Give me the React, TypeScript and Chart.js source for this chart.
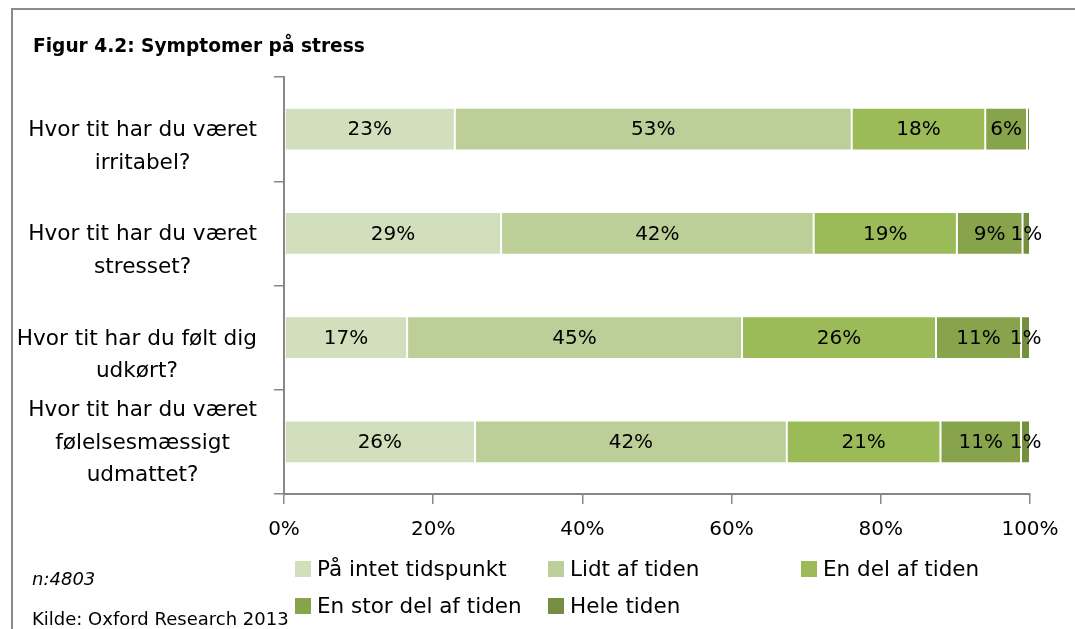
import React, { useEffect, useRef } from "react";
import { Chart, registerables } from "chart.js";

Chart.register(...registerables);

const FONT = "'DejaVu Sans', Verdana, sans-serif";

const titleText = "Figur 4.2: Symptomer på stress";
const noteN = "n:4803";
const noteSource = "Kilde: Oxford Research 2013";

const categories: string[][] = [
  ["Hvor tit har du været", "irritabel?"],
  ["Hvor tit har du været", "stresset?"],
  ["Hvor tit har du følt dig", "udkørt?"],
  ["Hvor tit har du været", "følelsesmæssigt", "udmattet?"],
];

const seriesNames = [
  "På intet tidspunkt",
  "Lidt af tiden",
  "En del af tiden",
  "En stor del af tiden",
  "Hele tiden",
];
const seriesColors = ["#d2dfbc", "#bccf99", "#9bbb59", "#87a34b", "#748f3d"];

const paaIntetTidspunkt = [22.9, 29.1, 16.5, 25.6];
const lidtAfTiden = [53.2, 41.9, 44.9, 41.8];
const enDelAfTiden = [17.9, 19.2, 26.0, 20.6];
const enStorDelAfTiden = [5.6, 8.8, 11.4, 10.8];
const heleTiden = [0.4, 1.0, 1.2, 1.2];
const seriesValues = [paaIntetTidspunkt, lidtAfTiden, enDelAfTiden, enStorDelAfTiden, heleTiden];

const xTickValues = [0, 20, 40, 60, 80, 100];

// legend layout: rows of series indices
const legendRows = [[0, 1, 2], [3, 4]];
const legendColX = [295, 548, 801];
const legendRowY = [561, 598];

const AXIS_COLOR = "#878787";

const dataLabelPlugin = {
  id: "dataLabels",
  afterDatasetsDraw(chart: any) {
    const ctx = chart.ctx;
    ctx.save();
    ctx.font = `20px ${FONT}`;
    ctx.fillStyle = "#000";
    ctx.textAlign = "center";
    ctx.textBaseline = "middle";
    chart.data.datasets.forEach((ds: any, di: number) => {
      const meta = chart.getDatasetMeta(di);
      meta.data.forEach((el: any, i: number) => {
        const v = ds.data[i] as number;
        if (v < 0.5) return;
        const p = el.getProps(["x", "y", "base"], true);
        ctx.fillText(Math.round(v) + "%", (p.x + p.base) / 2, p.y + 1);
      });
    });
    ctx.restore();
  },
};

const categoryLabelPlugin = {
  id: "categoryLabels",
  afterDraw(chart: any) {
    const ctx = chart.ctx;
    const yScale = chart.scales.y;
    const rightEdge = 257;
    const lineH = 32.5;
    ctx.save();
    ctx.font = `21.6px ${FONT}`;
    ctx.fillStyle = "#000";
    ctx.textAlign = "center";
    ctx.textBaseline = "middle";
    categories.forEach((lines, i) => {
      const cy = yScale.getPixelForValue(i);
      const widest = Math.max(...lines.map((l) => ctx.measureText(l).width));
      const cx = rightEdge - widest / 2;
      const lastY = cy + 34;
      lines.forEach((line, li) => {
        ctx.fillText(line, cx, lastY - (lines.length - 1 - li) * lineH);
      });
    });
    ctx.restore();
  },
};

export default function App() {
  const canvasRef = useRef<HTMLCanvasElement | null>(null);

  useEffect(() => {
    const canvas = canvasRef.current;
    if (!canvas) return;
    const chart = new Chart(canvas, {
      type: "bar",
      data: {
        labels: categories.map((c) => c.join(" ")),
        datasets: seriesNames.map((name, si) => ({
          label: name,
          data: seriesValues[si],
          backgroundColor: seriesColors[si],
          borderColor: "rgba(255,255,255,0.45)",
          borderWidth: 1,
          borderSkipped: false,
          categoryPercentage: 1,
          barPercentage: 0.41,
        })),
      },
      options: {
        animation: false,
        responsive: false,
        maintainAspectRatio: false,
        indexAxis: "y",
        layout: { padding: { top: 77, right: 45, left: 0, bottom: 0 } },
        plugins: {
          legend: { display: false },
          tooltip: { enabled: false },
          title: { display: false },
        },
        scales: {
          x: {
            stacked: true,
            min: 0,
            max: 100,
            afterBuildTicks: (scale: any) => {
              scale.ticks = xTickValues.map((v) => ({ value: v }));
            },
            ticks: {
              callback: (v: any) => v + "%",
              color: "#000",
              font: { family: FONT, size: 20 },
              padding: 14,
              maxRotation: 0,
              autoSkip: false,
            },
            grid: {
              drawOnChartArea: false,
              drawTicks: true,
              tickLength: 10,
              lineWidth: 1.5,
              color: AXIS_COLOR,
            },
            border: { color: AXIS_COLOR, width: 2 },
            afterFit: (scale: any) => {
              scale.height = 135;
            },
          },
          y: {
            stacked: true,
            ticks: { display: false },
            grid: {
              drawOnChartArea: false,
              drawTicks: true,
              tickLength: 10,
              lineWidth: 1.5,
              color: AXIS_COLOR,
              offset: true,
            },
            border: { color: AXIS_COLOR, width: 2 },
            afterFit: (scale: any) => {
              scale.width = 284;
            },
          },
        },
      } as any,
      plugins: [dataLabelPlugin, categoryLabelPlugin],
    });
    return () => chart.destroy();
  }, []);

  return (
    <div
      style={{
        position: "absolute",
        left: 0,
        top: 0,
        width: 1075,
        height: 629,
        background: "#fff",
        overflow: "hidden",
        fontFamily: FONT,
      }}
    >
      <div
        style={{
          position: "absolute",
          left: 11,
          top: 8,
          right: -5,
          bottom: -5,
          borderLeft: "2px solid #8c8c8c",
          borderTop: "2px solid #8c8c8c",
        }}
      />
      <canvas
        ref={canvasRef}
        width={1075}
        height={629}
        style={{ position: "absolute", left: 0, top: 0, width: 1075, height: 629 }}
      />
      <div
        style={{
          position: "absolute",
          left: 33,
          top: 36,
          fontSize: 18.6,
          lineHeight: "19px",
          fontWeight: "bold",
          whiteSpace: "nowrap",
        }}
      >
        {titleText}
      </div>
      <div
        style={{
          position: "absolute",
          left: 32,
          top: 570,
          fontSize: 18,
          lineHeight: "18px",
          fontStyle: "italic",
          whiteSpace: "nowrap",
        }}
      >
        {noteN}
      </div>
      <div
        style={{
          position: "absolute",
          left: 32,
          top: 610,
          fontSize: 18,
          lineHeight: "18px",
          whiteSpace: "nowrap",
        }}
      >
        {noteSource}
      </div>
      {legendRows.map((row, ri) =>
        row.map((si, ci) => (
          <div
            key={si}
            style={{
              position: "absolute",
              left: legendColX[ci],
              top: legendRowY[ri],
              height: 16,
              display: "flex",
              alignItems: "center",
              whiteSpace: "nowrap",
            }}
          >
            <span
              style={{
                display: "inline-block",
                width: 16,
                height: 16,
                background: seriesColors[si],
                marginRight: 6,
              }}
            />
            <span style={{ fontSize: 21.5, lineHeight: "16px" }}>{seriesNames[si]}</span>
          </div>
        ))
      )}
    </div>
  );
}
